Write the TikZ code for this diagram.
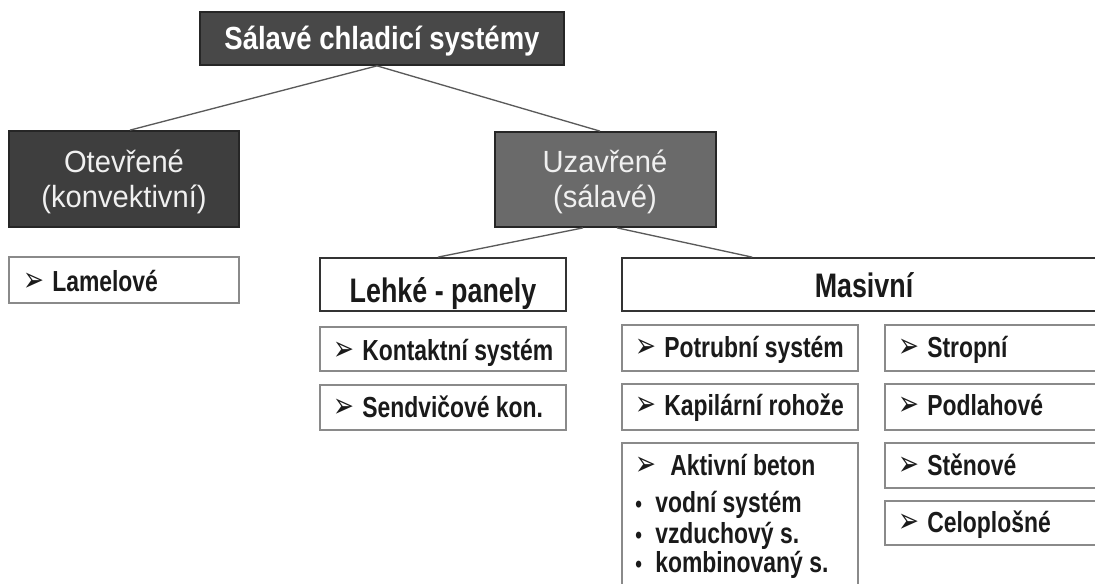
\documentclass[tikz,border=0pt]{standalone}
\usepackage{fontspec}
\setmainfont{Liberation Sans}
\newfontfamily\titlef[FakeStretch=0.86]{Liberation Sans}
\newfontfamily\headf[FakeStretch=0.95]{Liberation Sans}
\newfontfamily\itemf[FakeStretch=0.79]{Liberation Sans}
\newfontfamily\arrf{DejaVu Sans}
\usetikzlibrary{fit,calc}
\definecolor{topfill}{HTML}{484848}
\definecolor{openfill}{HTML}{3E3E3E}
\definecolor{closedfill}{HTML}{6A6A6A}
\definecolor{lineg}{HTML}{5A5A5A}
\definecolor{itemborder}{HTML}{8A8A8A}
\definecolor{darkborder}{HTML}{333333}
\definecolor{txt}{HTML}{1A1A1A}
\newcommand\arrglyph{\scalebox{0.72}[1]{\arrf\fontsize{26}{26}\selectfont ➢}}
\newcommand\arrmark{\makebox[21.75pt][l]{\arrglyph}}
\newcommand\arrwide{\makebox[26.25pt][l]{\arrglyph}}
\newcommand\bul{\makebox[15pt][l]{\fontsize{18}{18}\selectfont •}}
\begin{document}
\begin{tikzpicture}[x=0.75pt,y=-0.75pt,
  box/.style={inner sep=0pt, line width=1.2pt},
  darkbox/.style={box, draw=black!85, line width=1.3pt},
  whitebox/.style={box, draw=darkborder, fill=white, line width=1.3pt},
  itembox/.style={box, draw=itemborder, fill=white, line width=1.3pt},
  conn/.style={draw=lineg, line width=1pt},
  titletext/.style={inner sep=0pt, anchor=base, text=white, font=\titlef\bfseries\fontsize{24}{24}\selectfont},
  headtext/.style={inner sep=0pt, anchor=base, text=white!94!black, font=\headf\fontsize{23}{23}\selectfont},
  bigtext/.style={inner sep=0pt, anchor=base, text=txt, font=\itemf\bfseries\fontsize{25.5}{25.5}\selectfont},
  itemtext/.style={inner sep=0pt, anchor=base west, text=txt, font=\itemf\bfseries\fontsize{21.75}{21.75}\selectfont},
]
\useasboundingbox (0,0) rectangle (1095,584);
\clip (0,0) rectangle (1095,584);

% boxes
\node[darkbox, fill=topfill, fit={(200,12)(564,65)}] (top) {};
\node[darkbox, fill=openfill, fit={(9,131)(239,227)}] (open) {};
\node[itembox, fit={(9,257)(239,303)}] (lam) {};
\node[darkbox, fill=closedfill, fit={(495,132)(716,227)}] (closed) {};
\node[whitebox, fit={(320,258)(566,311)}] (light) {};
\node[itembox, fit={(320,327)(566,371)}] (kont) {};
\node[itembox, fit={(320,385)(566,430)}] (send) {};
\node[whitebox, fit={(622,258)(1110,311)}] (mas) {};
\node[itembox, fit={(622,325)(858,371)}] (potr) {};
\node[itembox, fit={(622,384)(858,430)}] (kap) {};
\node[itembox, fit={(622,443)(858,600)}] (akt) {};
\node[itembox, fit={(885,325)(1110,371)}] (strop) {};
\node[itembox, fit={(885,384)(1110,430)}] (podl) {};
\node[itembox, fit={(885,443)(1110,488)}] (sten) {};
\node[itembox, fit={(885,501)(1110,545)}] (celo) {};

% connectors
\draw[conn] ($(top.south)+(-5,0)$) -- ($(open.north)+(6,0)$);
\draw[conn] ($(top.south)+(-5,0)$) -- ($(closed.north)+(-5.5,0)$);
\draw[conn] ($(closed.south)+(-22.5,0)$) -- ($(light.north)+(-5,0)$);
\draw[conn] ($(closed.south)+(11.5,0)$) -- ($(mas.north west)+(131,0)$);

% texts
\node[titletext] (ttop) at (382,50) {Sálavé chladicí systémy};
\node[headtext] (to1) at (124,173) {Otevřené};
\node[headtext] (to2) at (124,208) {(konvektivní)};
\node[headtext] (tc1) at (605,173) {Uzavřené};
\node[headtext] (tc2) at (605,208) {(sálavé)};
\node[bigtext] (tlight) at (443,303) {Lehké - panely};
\node[bigtext] (tmas) at (864,298) {Masivní};

\node[itemtext] (tlam) at (23,292) {\arrmark Lamelové};
\node[itemtext] (tkont) at (333,360) {\arrmark Kontaktní systém};
\node[itemtext] (tsend) at (333,417) {\arrmark Sendvičové kon.};
\node[itemtext] (tpotr) at (635,358) {\arrmark Potrubní systém};
\node[itemtext] (tkap) at (635,415) {\arrmark Kapilární rohože};
\node[itemtext] (takt) at (635,475) {\arrwide Aktivní beton};
\node[itemtext] (tb1) at (635,512) {\bul vodní systém};
\node[itemtext] (tb2) at (635,543) {\bul vzduchový s.};
\node[itemtext] (tb3) at (635,572) {\bul kombinovaný s.};
\node[itemtext] (tstrop) at (898,358) {\arrmark Stropní};
\node[itemtext] (tpodl) at (898,415) {\arrmark Podlahové};
\node[itemtext] (tsten) at (898,475) {\arrmark Stěnové};
\node[itemtext] (tcelo) at (898,532) {\arrmark Celoplošné};
\end{tikzpicture}
\end{document}
